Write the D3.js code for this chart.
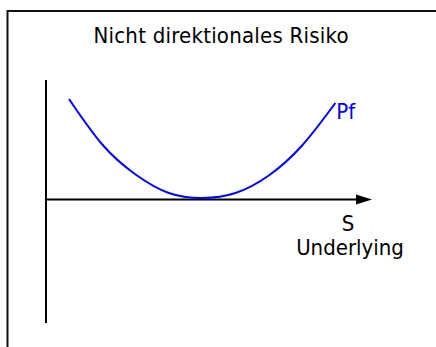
<!DOCTYPE html>
<html>
<head>
<meta charset="utf-8">
<script src="https://cdn.jsdelivr.net/npm/d3@7"></script>
<style>
body { margin: 0; background: #fff; }
text { font-family: "DejaVu Sans Condensed", "DejaVu Sans", sans-serif; }
</style>
</head>
<body>
<div id="chart"></div>
<script>
// values (Pf over the underlying S)
var underlying = [-4, -3, -2, -1, 0, 1, 2, 3, 4];
var pfValues = [100.5, 55, 25, 6.5, 1.5, 6.5, 24, 54, 96.5];
var titleText = "Nicht direktionales Risiko";
var xLabels = ["S", "Underlying"];
var curveLabel = "Pf";

var width = 436, height = 347;

var svg = d3.select("#chart").append("svg")
	.attr("width", width)
	.attr("height", height);

// frame, cut off on the right and bottom
svg.append("rect")
	.attr("x", 7.5)
	.attr("y", 11)
	.attr("width", 460)
	.attr("height", 380)
	.attr("fill", "none")
	.attr("stroke", "#111")
	.attr("stroke-width", 2);

var xScale = d3.scaleLinear()
	.domain([-4.69, 5.1])
	.range([46, 372]);
var yScale = d3.scaleLinear()
	.domain([-123.5, 119.5])
	.range([323, 80]);

svg.append("text")
	.attr("x", 221)
	.attr("y", 43)
	.attr("text-anchor", "middle")
	.attr("font-size", 22)
	.attr("textLength", 255)
	.attr("fill", "#000")
	.text(titleText);

// vertical axis
svg.append("line")
	.attr("x1", xScale(xScale.domain()[0]))
	.attr("x2", xScale(xScale.domain()[0]))
	.attr("y1", yScale.range()[1])
	.attr("y2", yScale.range()[0])
	.attr("stroke", "#000")
	.attr("stroke-width", 2);

// horizontal axis with arrow head
var axisY = yScale(0);
var tip = xScale.range()[1];
svg.append("line")
	.attr("x1", xScale.range()[0])
	.attr("x2", tip - 14)
	.attr("y1", axisY)
	.attr("y2", axisY)
	.attr("stroke", "#000")
	.attr("stroke-width", 2);
svg.append("path")
	.attr("d", "M" + tip + "," + axisY + "L" + (tip - 16) + "," + (axisY - 5) + "L" + (tip - 16) + "," + (axisY + 5) + "Z")
	.attr("fill", "#000");

var data = underlying.map(function(d, i){ return {s: d, pf: pfValues[i]}; });

var line = d3.line()
	.x(function(d){ return xScale(d.s); })
	.y(function(d){ return yScale(d.pf); })
	.curve(d3.curveNatural);

svg.append("path")
	.datum(data)
	.attr("d", line)
	.attr("fill", "none")
	.attr("stroke", "#0000ff")
	.attr("stroke-width", 2);

var last = data[data.length - 1];
svg.append("text")
	.attr("x", xScale(last.s) + 1)
	.attr("y", yScale(last.pf) + 16)
	.attr("font-size", 22)
	.attr("fill", "#0000ff")
	.text(curveLabel);

svg.append("text")
	.attr("x", 348)
	.attr("y", 231)
	.attr("text-anchor", "middle")
	.attr("font-size", 22)
	.attr("fill", "#000")
	.text(xLabels[0]);
svg.append("text")
	.attr("x", 350)
	.attr("y", 255)
	.attr("text-anchor", "middle")
	.attr("font-size", 22)
	.attr("fill", "#000")
	.text(xLabels[1]);
</script>
</body>
</html>
